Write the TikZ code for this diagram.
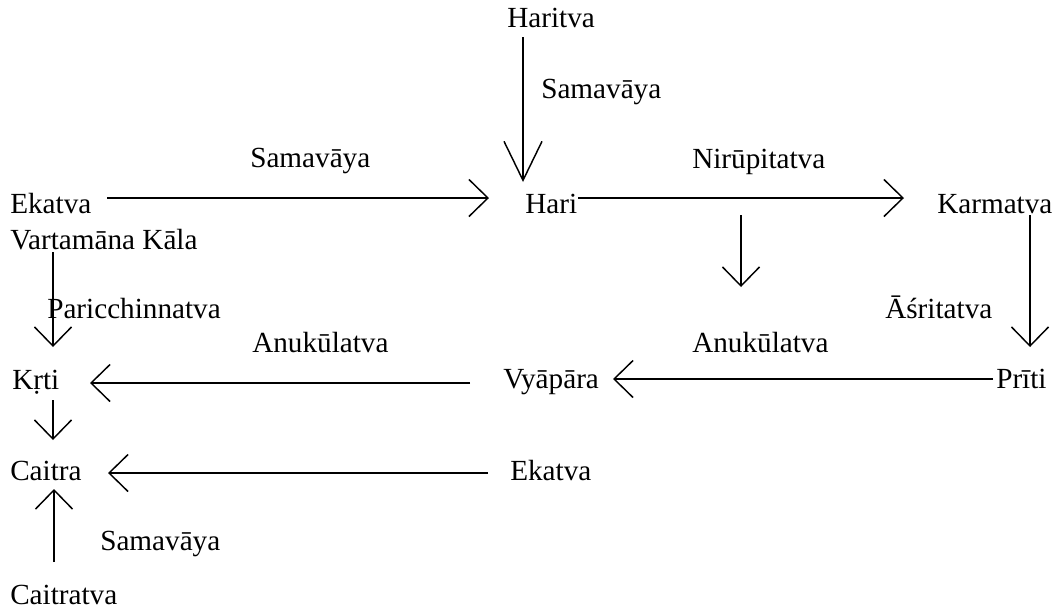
\documentclass[tikz,border=0pt]{standalone}
\usepackage{fontspec}
\setmainfont{Liberation Serif}
\usetikzlibrary{arrows.meta}
\begin{document}
\begin{tikzpicture}[x=0.75pt,y=-0.75pt,
  lbl/.style={inner sep=0pt,anchor=base west,font=\fontsize{21.9pt}{26pt}\selectfont},
  conn/.style={line width=1.1pt,-{Straight Barb[length=14.25pt,width=27.75pt,line width=1.1pt]}},
  connlong/.style={line width=1.1pt,-{Straight Barb[length=29.25pt,width=28.5pt,line width=1.1pt]}}]
\useasboundingbox (0,0) rectangle (1057,612);
% nodes
\node[lbl] (haritva) at (507,27) {Haritva};
\node[lbl] (samTop) at (541,98) {Samavāya};
\node[lbl] (samMid) at (250,167) {Samavāya};
\node[lbl] (nirupita) at (692,168) {Nirūpitatva};
\node[lbl] (ekatvaL) at (10,213) {Ekatva};
\node[lbl] (hari) at (525,213) {Hari};
\node[lbl] (karmatva) at (937,213) {Karmatva};
\node[lbl] (vartamana) at (10,249) {Vartamāna Kāla};
\node[lbl] (paric) at (47,318) {Paricchinnatva};
\node[lbl] (asrita) at (885,318) {Āśritatva};
\node[lbl] (anuL) at (252,352) {Anukūlatva};
\node[lbl] (anuR) at (692,352) {Anukūlatva};
\node[lbl] (krti) at (12,389) {Kṛti};
\node[lbl] (vyapara) at (503,388) {Vyāpāra};
\node[lbl] (priti) at (996,388) {Prīti};
\node[lbl] (caitra) at (10,480) {Caitra};
\node[lbl] (ekatvaR) at (510,480) {Ekatva};
\node[lbl] (samBot) at (100,550) {Samavāya};
\node[lbl] (caitratva) at (10,604) {Caitratva};
\coordinate (hk) at (741,215);
% connectors
\draw[connlong] ([shift={(16,10)}]haritva.base west) -- ([shift={(-2,-31)}]hari.base west);
\draw[conn] ([shift={(97,-15)}]ekatvaL.base west) -- ([shift={(-36,-15)}]hari.base west);
\draw[conn] ([shift={(53,-15)}]hari.base west) -- ([shift={(-33,-15)}]karmatva.base west);
\draw[conn] (hk) -- ([shift={(49,-65)}]anuR.base west);
\draw[conn] ([shift={(93,2)}]karmatva.base west) -- ([shift={(34,-41)}]priti.base west);
\draw[conn] ([shift={(-3,-9)}]priti.base west) -- ([shift={(110,-9)}]vyapara.base west);
\draw[conn] ([shift={(-33,-5)}]vyapara.base west) -- ([shift={(78,-6)}]krti.base west);
\draw[conn] ([shift={(43,3)}]vartamana.base west) -- ([shift={(41,-42)}]krti.base west);
\draw[conn] ([shift={(41,11)}]krti.base west) -- ([shift={(43,-40)}]caitra.base west);
\draw[conn] ([shift={(-22,-7)}]ekatvaR.base west) -- ([shift={(98,-7)}]caitra.base west);
\draw[conn] ([shift={(44,-42)}]caitratva.base west) -- ([shift={(44,9)}]caitra.base west);
\end{tikzpicture}
\end{document}
